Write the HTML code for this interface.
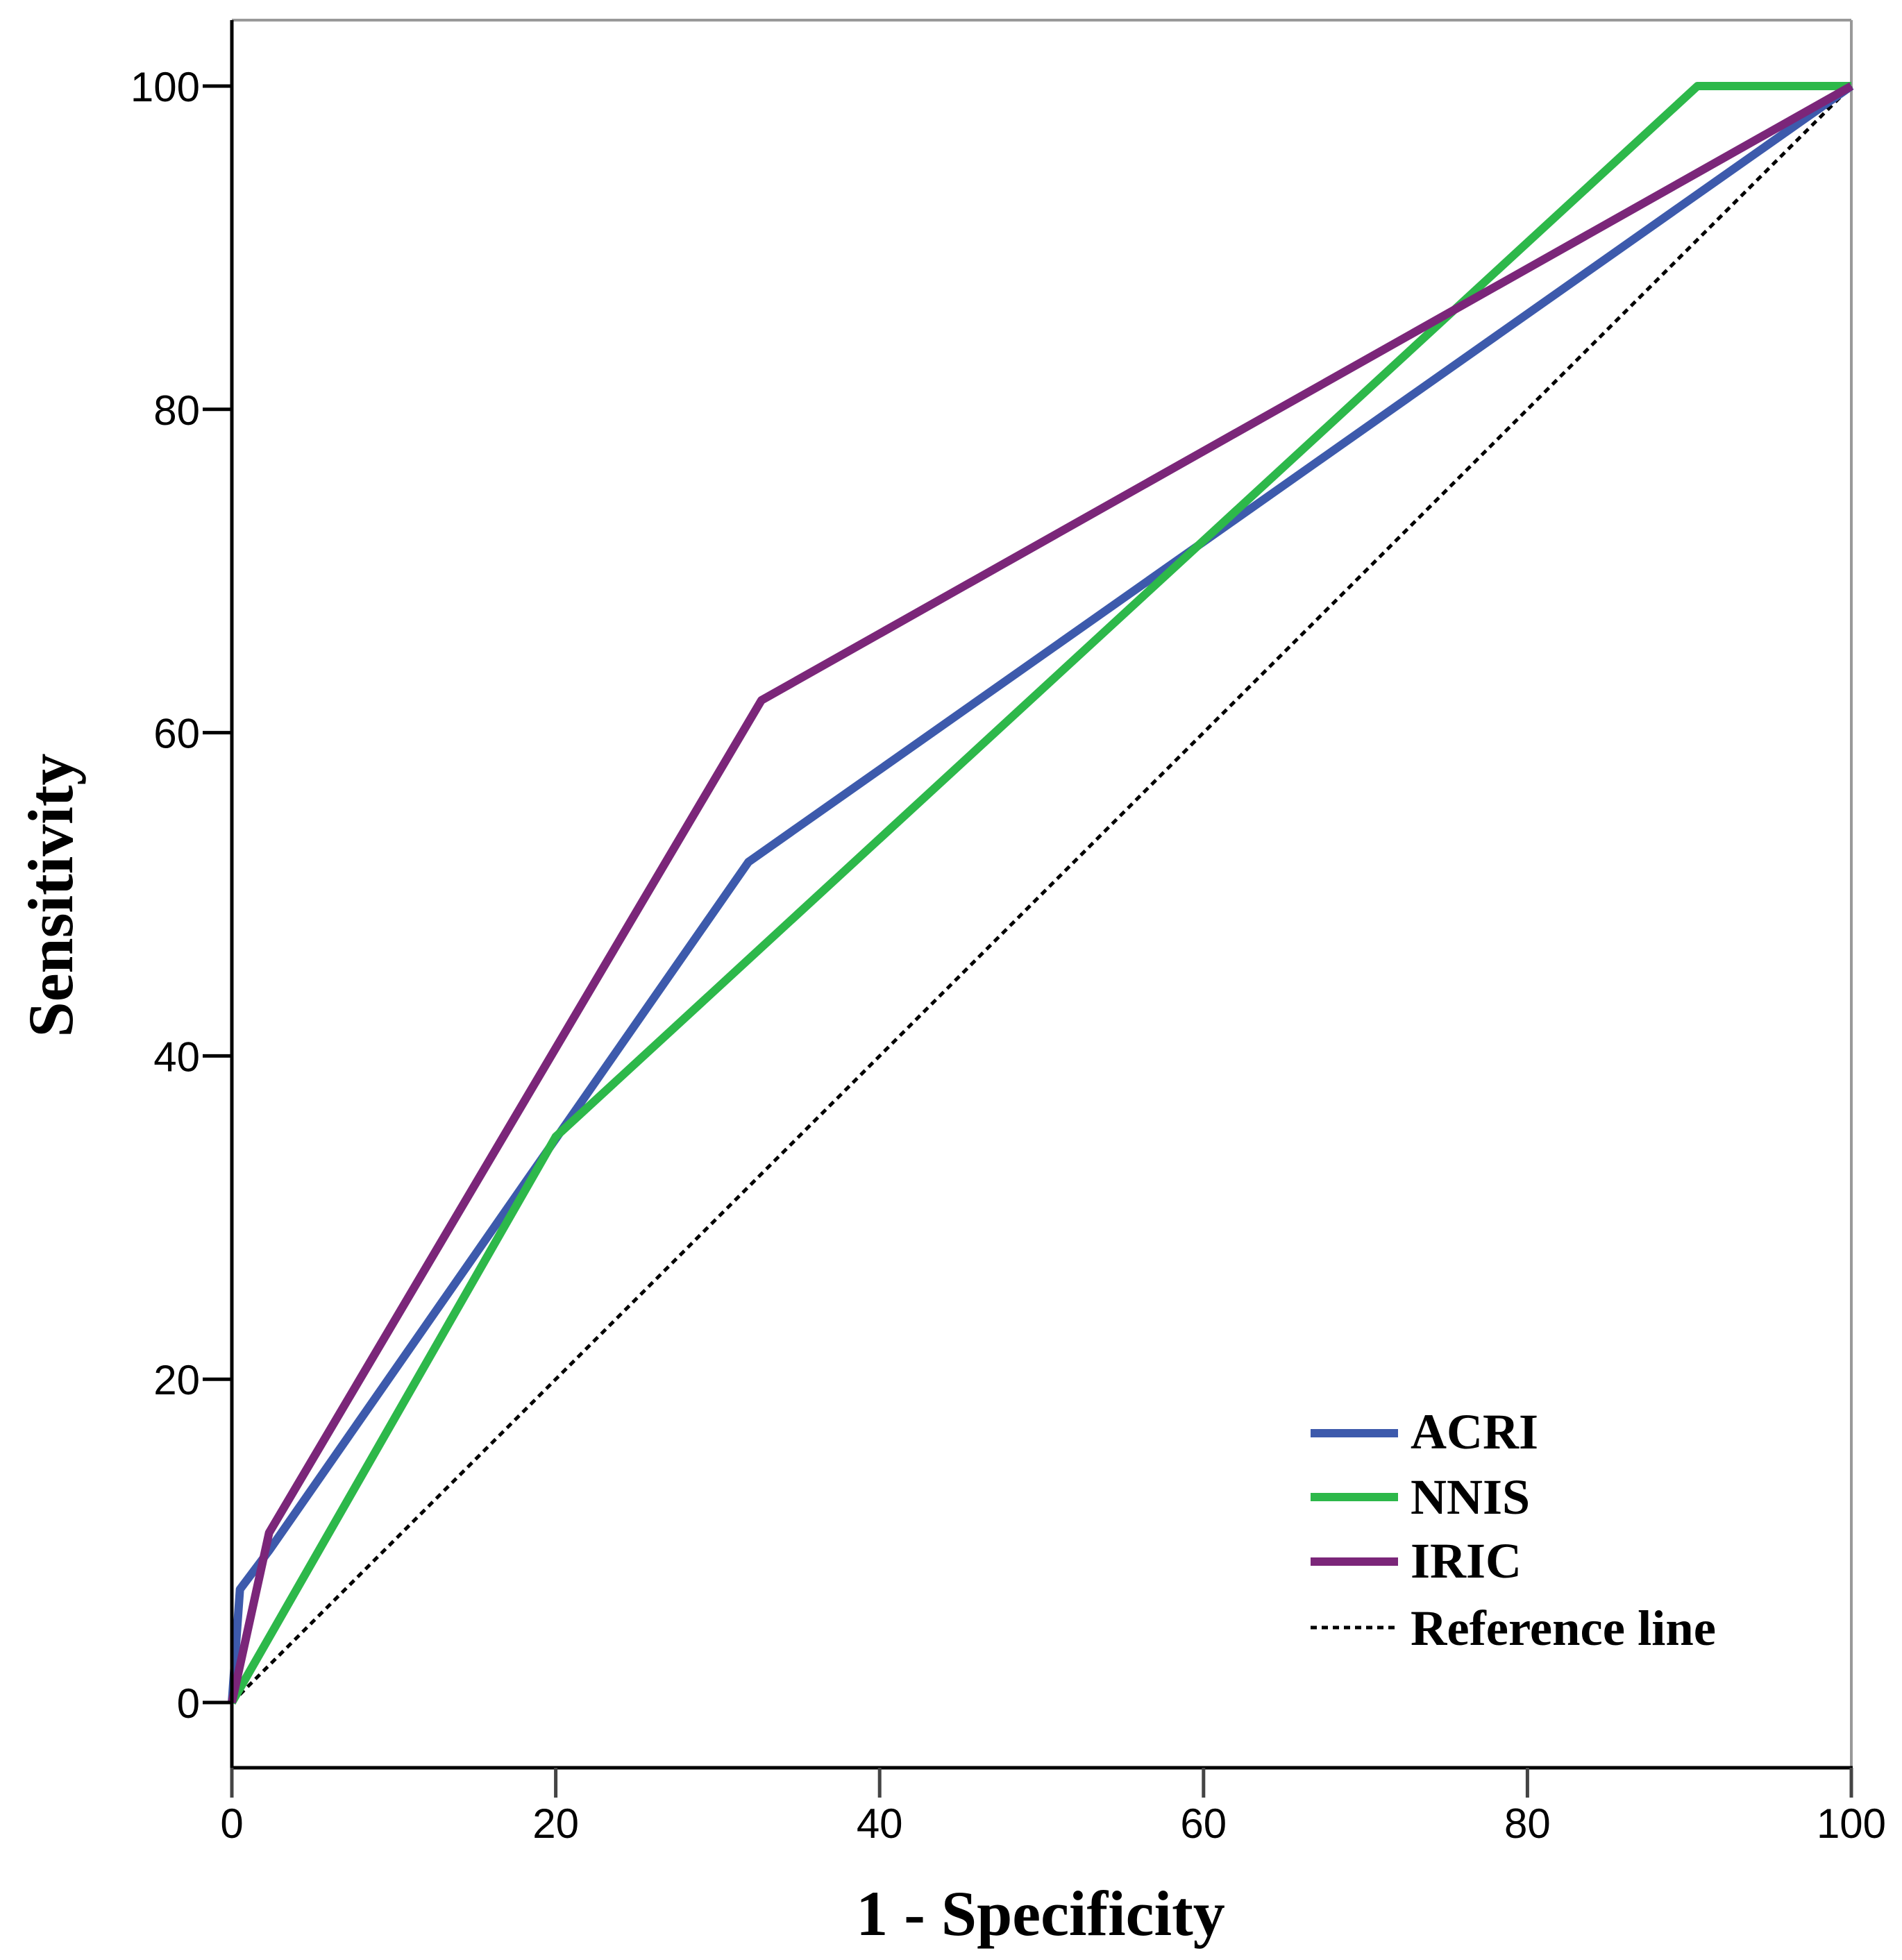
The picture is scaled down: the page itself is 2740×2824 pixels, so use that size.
<!DOCTYPE html>
<html><head><meta charset="utf-8"><style>
html,body{margin:0;padding:0;background:#fff;}
svg{display:block;}
</style></head><body>
<svg id="chart" width="2740" height="2824" viewBox="0 0 2740 2824" xmlns="http://www.w3.org/2000/svg">
<rect x="0" y="0" width="2740" height="2824" fill="#fff"/>
<g id="frame"></g>
<g id="ref"></g>
<g id="series"></g>
<g id="axes"></g>
<text x="0" y="0" transform="translate(104,1290) rotate(-90)" text-anchor="middle" font-family="'Liberation Serif',serif" font-weight="bold" font-size="92">Sensitivity</text>
<text x="1499" y="2788" text-anchor="middle" font-family="'Liberation Serif',serif" font-weight="bold" font-size="92">1 - Specificity</text>
<g id="legend"></g>
</svg>
<script>
const xTicks = [0, 20, 40, 60, 80, 100];
const yTicks = [0, 20, 40, 60, 80, 100];
const seriesNames = ["ACRI", "NNIS", "IRIC"];
const acriX = [0, 0.5, 2.3, 31.9, 100];
const acriY = [0, 7, 9.4, 52, 100];
const nnisX = [0, 20, 90.5, 100];
const nnisY = [0, 35, 100, 100];
const iricX = [0, 2.3, 32.7, 100];
const iricY = [0, 10.5, 62, 100];
const refX = [0, 100];
const refY = [0, 100];

const NS = "http://www.w3.org/2000/svg";
const X0 = 334, X1 = 2667, Y0 = 2453, Y1 = 124;
const sx = v => X0 + (v / 100) * (X1 - X0);
const sy = v => Y0 - (v / 100) * (Y0 - Y1);
function mk(tag, attrs, parent) {
  const e = document.createElementNS(NS, tag);
  for (const k in attrs) e.setAttribute(k, attrs[k]);
  parent.appendChild(e);
  return e;
}
const frame = document.getElementById('frame');
let e;
e = mk('line', {x1: X0, y1: 29, x2: X1, y2: 29, stroke: '#999', 'stroke-width': 4}, frame);


e = mk('line', {x1: X1, y1: 29, x2: X1, y2: 2547, stroke: '#999', 'stroke-width': 4}, frame);



const ref = document.getElementById('ref');
e = mk('polyline', {points: refX.map((v, i) => sx(v) + ',' + sy(refY[i])).join(' '), fill: 'none', stroke: '#000', 'stroke-width': 5, 'stroke-dasharray': '9 7'}, ref);



const sData = [[acriX, acriY, '#3d5aac'], [nnisX, nnisY, '#2db84a'], [iricX, iricY, '#7b2679']];
const series = document.getElementById('series');
sData.forEach((s, k) => {
  const el = mk('polyline', {points: s[0].map((v, i) => sx(v) + ',' + sy(s[1][i])).join(' '), fill: 'none', stroke: s[2], 'stroke-width': 12, 'stroke-linejoin': 'round'}, series);
  
  
});

const axes = document.getElementById('axes');
e = mk('line', {x1: X0, y1: 29, x2: X0, y2: 2590, stroke: '#000', 'stroke-width': 5}, axes);


e = mk('line', {x1: X0, y1: 2547, x2: X1 + 2, y2: 2547, stroke: '#000', 'stroke-width': 5}, axes);


xTicks.forEach(t => {
  const tk = mk('line', {x1: sx(t), y1: 2547, x2: sx(t), y2: 2590, stroke: '#444', 'stroke-width': 5}, axes);
  
  
  const lb = mk('text', {x: sx(t), y: 2648, 'text-anchor': 'middle', 'font-family': "'Liberation Sans',sans-serif", 'font-size': 60, fill: '#000'}, axes);
  lb.textContent = t;
  
  
});
yTicks.forEach(t => {
  const tk = mk('line', {x1: 292, y1: sy(t), x2: X0, y2: sy(t), stroke: '#000', 'stroke-width': 5}, axes);
  
  
  const lb = mk('text', {x: 288, y: sy(t) + 22, 'text-anchor': 'end', 'font-family': "'Liberation Sans',sans-serif", 'font-size': 60, fill: '#000'}, axes);
  lb.textContent = t;
  
  
});

const legend = document.getElementById('legend');
const legRows = [['ACRI', '#3d5aac', 2065, 2087, null], ['NNIS', '#2db84a', 2157, 2181, null], ['IRIC', '#7b2679', 2250, 2273, null], ['Reference line', '#000', 2345, 2370, '9 7']];
legRows.forEach(r => {
  const ln = mk('line', {x1: 1888, y1: r[2], x2: 2014, y2: r[2], stroke: r[1], 'stroke-width': r[4] ? 5 : 12}, legend);
  if (r[4]) ln.setAttribute('stroke-dasharray', r[4]);
  
  
  const tx = mk('text', {x: 2032, y: r[3], 'font-family': "'Liberation Serif',serif", 'font-weight': 'bold', 'font-size': 72, fill: '#000'}, legend);
  if (r[0] === 'Reference line') { tx.setAttribute('textLength', 440); tx.setAttribute('lengthAdjust', 'spacingAndGlyphs'); }
  tx.textContent = r[0];
  
  
});
</script>
</body></html>
